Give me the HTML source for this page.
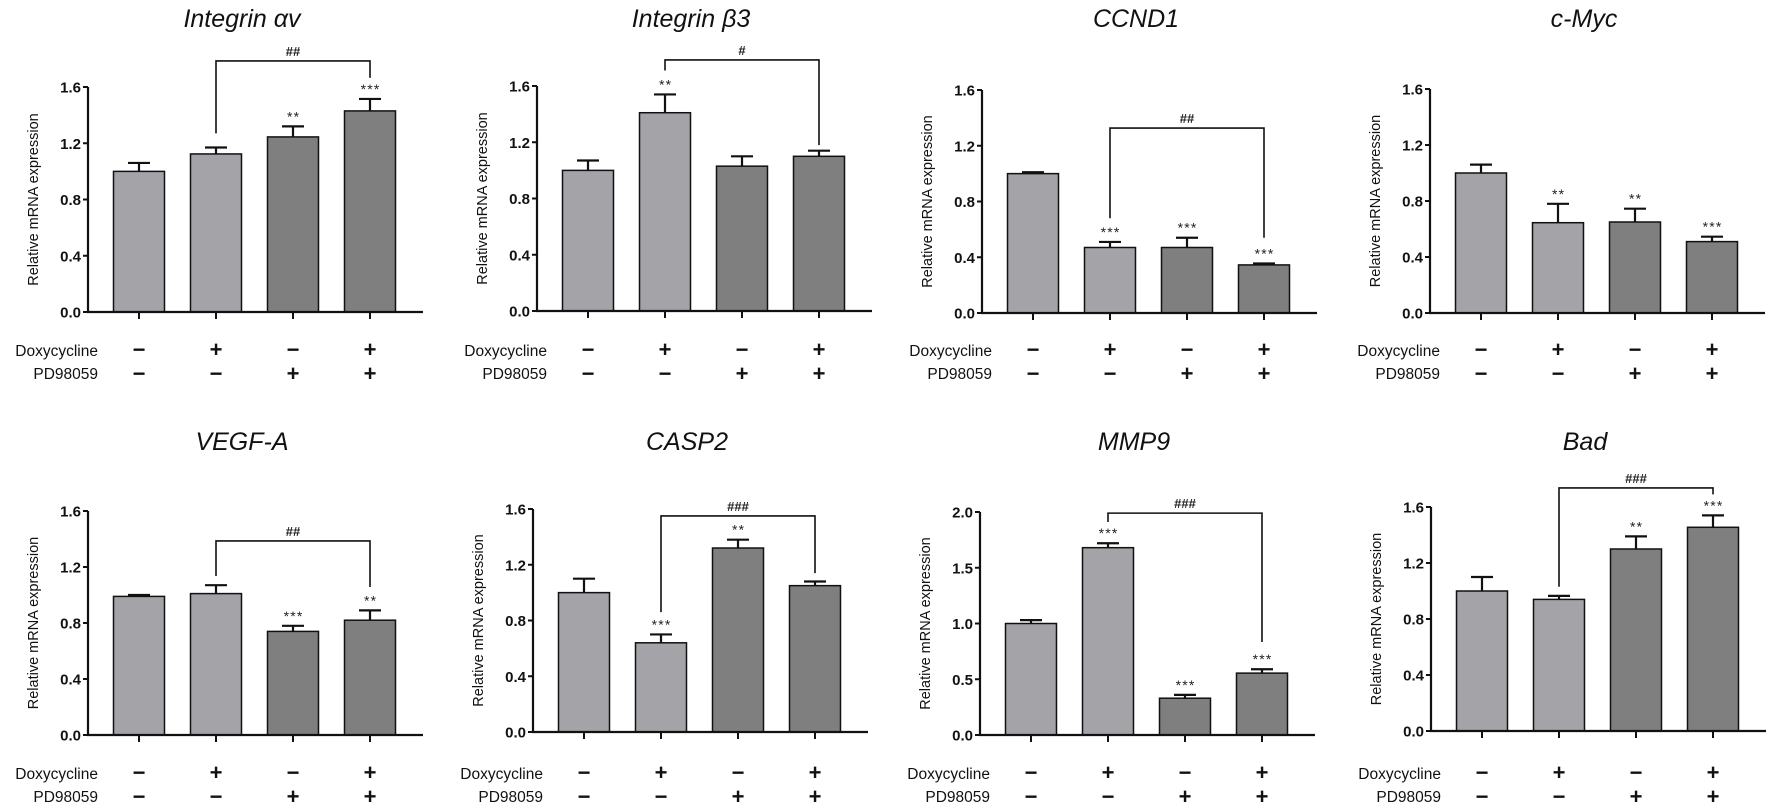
<!DOCTYPE html>
<html><head><meta charset="utf-8">
<style>
html,body{margin:0;padding:0;background:#fff;}
svg{display:block;font-family:"Liberation Sans",Arial,sans-serif;}
</style></head>
<body>
<svg id="fig" width="1772" height="809" viewBox="0 0 1772 809" xmlns="http://www.w3.org/2000/svg"></svg>
<script>
const titles = ["Integrin  \u03b1v","Integrin  \u03b23","CCND1","c-Myc","VEGF-A","CASP2","MMP9","Bad"];
const doxRow = ["\u2212","+","\u2212","+"];
const pdRow = ["\u2212","\u2212","+","+"];
const means1 = [1.0,1.124,1.245,1.43];
const means2 = [1.0,1.41,1.03,1.10];
const means3 = [1.0,0.47,0.47,0.345];
const means4 = [1.0,0.645,0.65,0.51];
const means5 = [0.99,1.01,0.74,0.82];
const means6 = [1.0,0.64,1.32,1.05];
const means7 = [1.0,1.68,0.33,0.555];
const means8 = [1.0,0.94,1.30,1.455];
const errs1 = [0.06,0.046,0.075,0.085];
const errs2 = [0.07,0.13,0.07,0.04];
const errs3 = [0.01,0.04,0.07,0.01];
const errs4 = [0.06,0.135,0.095,0.035];
const errs5 = [0.01,0.06,0.04,0.07];
const errs6 = [0.10,0.06,0.06,0.03];
const errs7 = [0.03,0.04,0.03,0.035];
const errs8 = [0.10,0.025,0.09,0.085];
const stars1 = ["","","**","***"];
const stars2 = ["","**","",""];
const stars3 = ["","***","***","***"];
const stars4 = ["","**","**","***"];
const stars5 = ["","","***","**"];
const stars6 = ["","***","**",""];
const stars7 = ["","***","***","***"];
const stars8 = ["","","**","***"];
const ticks16 = ["0.0","0.4","0.8","1.2","1.6"];
const ticks20 = ["0.0","0.5","1.0","1.5","2.0"];
// bracket: [fromBar, toBar, label, topValue, leftEndValue, rightEndValue]
const bracket1 = [1,3,"##",1.785,1.27,1.665];
const bracket2 = [1,3,"#",1.785,1.71,1.18];
const bracket3 = [1,3,"##",1.327,0.68,0.54];
const bracket4 = null;
const bracket5 = [1,3,"##",1.386,1.136,1.057];
const bracket6 = [1,3,"###",1.55,0.86,1.14];
const bracket7 = [1,3,"###",1.99,1.91,0.834];
const bracket8 = [1,3,"###",1.736,1.03,1.69];

const allMeans=[means1,means2,means3,means4,means5,means6,means7,means8];
const allErrs=[errs1,errs2,errs3,errs4,errs5,errs6,errs7,errs8];
const allStars=[stars1,stars2,stars3,stars4,stars5,stars6,stars7,stars8];
const allTicks=[ticks16,ticks16,ticks16,ticks16,ticks16,ticks16,ticks20,ticks16];
const allBrackets=[bracket1,bracket2,bracket3,bracket4,bracket5,bracket6,bracket7,bracket8];
const names=["integrin-av","integrin-b3","ccnd1","c-myc","vegf-a","casp2","mmp9","bad"];
// layout (not data)
const L=[
 {ax:88,y0:312,yt:87,rowY:0},{ax:537,y0:311,yt:86,rowY:0},{ax:982,y0:313,yt:90,rowY:0},{ax:1430,y0:313,yt:89,rowY:0},
 {ax:88,y0:735,yt:511,rowY:423},{ax:533,y0:732,yt:509,rowY:423},{ax:980,y0:735,yt:512,rowY:423},{ax:1431,y0:731,yt:507,rowY:423}
];
const NS="http://www.w3.org/2000/svg";
const svg=document.getElementById('fig');
function mk(tag,attrs,parent,text){const e=document.createElementNS(NS,tag);for(const k in attrs)e.setAttribute(k,attrs[k]);if(text!==undefined)e.textContent=text;(parent||svg).appendChild(e);return e;}

for(let p=0;p<8;p++){
  const l=L[p], m=allMeans[p], er=allErrs[p], st=allStars[p], tk=allTicks[p], br=allBrackets[p];
  const g=mk('g',{});
  
  
  const maxV=parseFloat(tk[tk.length-1]);
  const yS=v=>l.y0-(v/maxV)*(l.y0-l.yt);
  const xC=i=>l.ax+51+i*77;
  // title
  const t=mk('text',{x:l.ax+154,y:l.rowY+27,'text-anchor':'middle','font-size':'25','font-style':'italic',fill:'#111'},g,titles[p]);
  
  
  // bars
  for(let i=0;i<4;i++){
    const top=yS(m[i]);
    const r=mk('rect',{x:xC(i)-25.5,y:top,width:51,height:l.y0-top,fill:i<2?'#a3a3a8':'#7f7f7f',stroke:'#111','stroke-width':'1.5'},g);
    
    
    const et=yS(m[i]+er[i]);
    const eb=mk('path',{d:`M${xC(i)} ${top} V${et} M${xC(i)-11} ${et} H${xC(i)+11}`,stroke:'#111','stroke-width':'2.2',fill:'none'},g);
    
    
    if(st[i]){
      const s=mk('text',{x:xC(i),y:et-5,'text-anchor':'middle','font-size':'14',fill:'#222'},g,st[i].split('').join('\u200a'));
      
      
    }
    // x tick
    mk('line',{x1:xC(i),x2:xC(i),y1:l.y0,y2:l.y0+7,stroke:'#111','stroke-width':'2'},g);
    const d=mk('text',{x:xC(i),y:l.rowY+357,'text-anchor':'middle','font-size':'22','font-weight':'bold',fill:'#111'},g,doxRow[i]);
    
    
    const pd=mk('text',{x:xC(i),y:l.rowY+381,'text-anchor':'middle','font-size':'22','font-weight':'bold',fill:'#111'},g,pdRow[i]);
    
    
  }
  // axes
  const axes=mk('path',{d:`M${l.ax} ${l.yt} V${l.y0} H${l.ax+335}`,stroke:'#111','stroke-width':'2.2',fill:'none'},g);
  
  
  for(let k=0;k<tk.length;k++){
    const y=yS(parseFloat(tk[k]));
    mk('line',{x1:l.ax-5,x2:l.ax,y1:y,y2:y,stroke:'#111','stroke-width':'2'},g);
    const tl=mk('text',{x:l.ax-7,y:y+5.5,'text-anchor':'end','font-size':'15','font-weight':'bold',fill:'#111'},g,tk[k]);
    
    
  }
  const yc=(l.y0+l.yt)/2;
  const yt=mk('text',{x:0,y:0,transform:`translate(${l.ax-50},${yc}) rotate(-90)`,'text-anchor':'middle','font-size':'14.5',fill:'#111'},g,'Relative mRNA expression');
  
  
  const dl=mk('text',{x:l.ax+10,y:l.rowY+356,'text-anchor':'end','font-size':'15.5',fill:'#111'},g,'Doxycycline');
  
  
  const pl=mk('text',{x:l.ax+10,y:l.rowY+379,'text-anchor':'end','font-size':'15.5',fill:'#111'},g,'PD98059');
  
  
  if(br){
    const x1=xC(br[0]), x2=xC(br[1]), yt2=yS(br[3]);
    const b=mk('path',{d:`M${x1} ${yS(br[4])} V${yt2} H${x2} V${yS(br[5])}`,stroke:'#111','stroke-width':'1.6',fill:'none'},g);
    
    
    const bl=mk('text',{x:(x1+x2)/2,y:yt2-5,'text-anchor':'middle','font-size':'13','font-weight':'bold',fill:'#222'},g,br[2]);
    
    
  }
}
</script>
</body></html>
